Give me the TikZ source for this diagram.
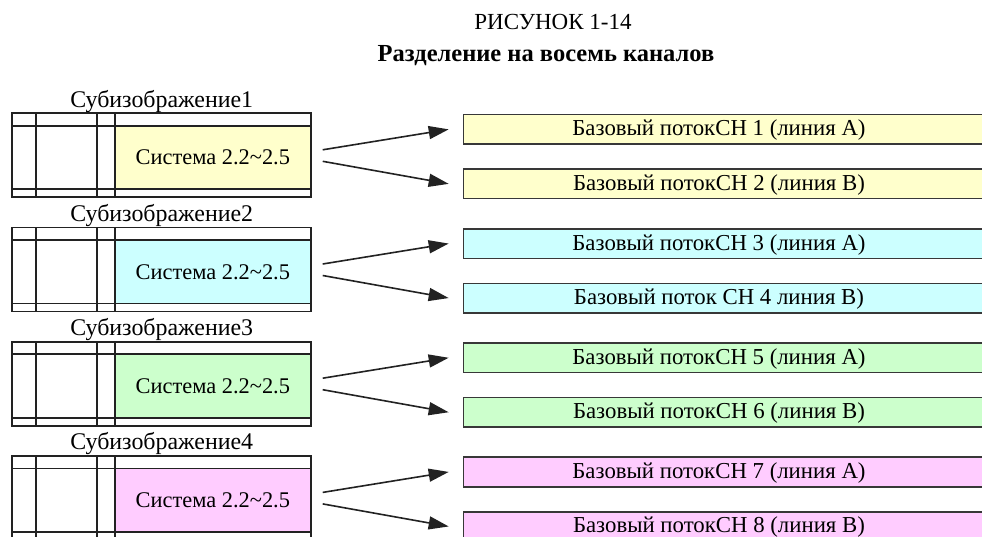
\documentclass[tikz,border=0pt]{standalone}
\usepackage{fontspec}
\setmainfont{Liberation Serif}
\usetikzlibrary{arrows.meta}
\definecolor{cY}{HTML}{FFFFCC}
\definecolor{cC}{HTML}{CCFFFF}
\definecolor{cG}{HTML}{CCFFCC}
\definecolor{cM}{HTML}{FFCCFF}
\definecolor{ink}{HTML}{222222}
\tikzset{
  frame/.style={draw=ink, line width=1.8pt},
  sys/.style={draw=ink, line width=1.8pt, minimum width=195.7pt, minimum height=63.5pt, inner sep=0pt, font=\fontsize{22.4}{24}\selectfont},
  chbox/.style={draw=ink!90, line width=1.6pt, minimum width=540pt, minimum height=29.5pt, anchor=north west, inner sep=0pt},
  chtext/.style={font=\fontsize{22.8}{24}\selectfont, inner sep=0pt, anchor=base},
  sublabel/.style={font=\fontsize{23.9}{26}\selectfont, anchor=base, inner sep=0pt},
  arr/.style={draw=ink, line width=1.6pt, -{Triangle[length=20pt, width=13pt]}}
}
\begin{document}
\begin{tikzpicture}[x=1pt, y=-1pt]
\useasboundingbox (0,0) rectangle (982,536);
\clip (0,0) rectangle (982,536);
\node[anchor=base, inner sep=0pt, font=\fontsize{23}{25}\selectfont] (title) at (553,29.3) {РИСУНОК 1-14};
\node[anchor=base, inner sep=0pt, font=\fontsize{24.5}{27}\selectfont\bfseries] (subtitle) at (546,61.5) {Разделение на восемь каналов};
\foreach \i/\T/\col/\ta/\tb in {
  1/113.3/cY/{Базовый потокCH 1 (линия A)}/{Базовый потокCH 2 (линия B)},
  2/227.5/cC/{Базовый потокCH 3 (линия A)}/{Базовый поток CH 4 линия B)},
  3/341.7/cG/{Базовый потокCH 5 (линия A)}/{Базовый потокCH 6 (линия B)},
  4/455.9/cM/{Базовый потокCH 7 (линия A)}/{Базовый потокCH 8 (линия B)}}{
  \node[sublabel] (lab\i) at (161.7,\T-6) {Субизображение\i};
  \node[sys, fill=\col] (s\i) at (212.85,\T+44.25) {Система 2.2\textasciitilde2.5};
  \draw[frame] (11.7,\T) rectangle (310.7,\T+84);
  \draw[frame] (11.7,\T+12.5) -- (310.7,\T+12.5);
  \draw[frame] (11.7,\T+76) -- (310.7,\T+76);
  \draw[frame] (35.7,\T) -- (35.7,\T+84);
  \draw[frame] (97.3,\T) -- (97.3,\T+84);
  \draw[frame] (115,\T) -- (115,\T+84);
  \node[chbox, fill=\col] (ca\i) at (462.7,\T+0.5) {};
  \node[chbox, fill=\col] (cb\i) at (462.7,\T+55) {};
  \node[chtext] (ta\i) at (719,\T+22.5) {\ta};
  \node[chtext] (tb\i) at (719,\T+77) {\tb};
  \coordinate (oa\i) at (322.7,\T+36.5);
  \coordinate (ob\i) at (322.7,\T+48);
  \draw[arr] (oa\i) -- ([xshift=-14pt]ca\i.west);
  \draw[arr] (ob\i) -- ([xshift=-14pt]cb\i.west);
}
\end{tikzpicture}
\end{document}
